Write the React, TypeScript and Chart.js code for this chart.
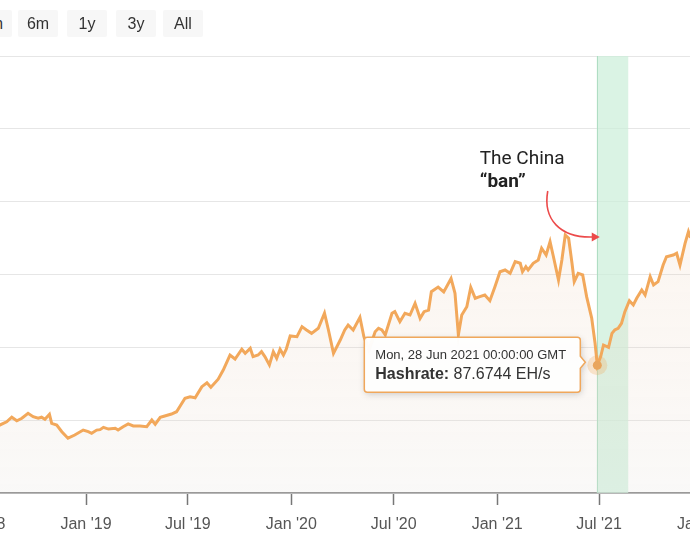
import React, { useEffect, useRef } from "react";
import { Chart, registerables } from "chart.js";

Chart.register(...registerables);

// ---- data ----
const dates: string[] = [
  "2018-07-04","2018-07-18","2018-08-01","2018-08-13","2018-08-22","2018-08-31","2018-09-09","2018-09-20","2018-09-29","2018-10-08",
  "2018-10-14","2018-10-20","2018-10-28","2018-11-01","2018-11-10","2018-11-19","2018-11-30","2018-12-12","2018-12-27","2019-01-05",
  "2019-01-11","2019-01-20","2019-01-26","2019-02-01","2019-02-10","2019-02-22","2019-02-27","2019-03-08","2019-03-17","2019-03-26",
  "2019-04-07","2019-04-19","2019-04-28","2019-05-04","2019-05-13","2019-05-21","2019-06-02","2019-06-11","2019-06-26","2019-07-05",
  "2019-07-14","2019-07-26","2019-08-04","2019-08-11","2019-08-24","2019-09-02","2019-09-14","2019-09-23","2019-10-05","2019-10-11",
  "2019-10-20","2019-10-25","2019-11-03","2019-11-09","2019-11-15","2019-11-23","2019-11-30","2019-12-06","2019-12-12","2019-12-18",
  "2019-12-23","2019-12-30","2020-01-11","2020-01-20","2020-01-28","2020-02-06","2020-02-18","2020-02-29","2020-03-07","2020-03-16",
  "2020-03-28","2020-04-05","2020-04-11","2020-04-20","2020-05-02","2020-05-09","2020-05-18","2020-05-29","2020-06-04","2020-06-10",
  "2020-06-16","2020-06-28","2020-07-03","2020-07-12","2020-07-21","2020-07-30","2020-08-08","2020-08-17","2020-08-24","2020-09-01",
  "2020-09-06","2020-09-18","2020-09-28","2020-10-11","2020-10-18","2020-10-24","2020-10-30","2020-11-08","2020-11-15","2020-11-23",
  "2020-12-01","2020-12-10","2020-12-19","2020-12-28","2021-01-06","2021-01-15","2021-01-24","2021-02-02","2021-02-11","2021-02-15",
  "2021-02-21","2021-02-25","2021-03-06","2021-03-15","2021-03-21","2021-03-29","2021-04-05","2021-04-11","2021-04-20","2021-04-26",
  "2021-05-02","2021-05-08","2021-05-14","2021-05-18","2021-05-25","2021-06-02","2021-06-09","2021-06-18","2021-06-24","2021-06-28",
  "2021-07-04","2021-07-09","2021-07-18","2021-07-24","2021-07-29","2021-08-04","2021-08-10","2021-08-16","2021-08-24","2021-08-31",
  "2021-09-06","2021-09-15","2021-09-21","2021-09-30","2021-10-06","2021-10-14","2021-10-23","2021-10-29","2021-11-10","2021-11-16",
  "2021-11-22","2021-12-01","2021-12-07","2021-12-10","2021-12-20"
];

const hashrate: number[] = [
  47.4,45.3,46.7,48.9,52.0,49.6,51.3,54.7,52.4,51.3,
  52.0,50.6,54.0,47.8,46.7,42.1,37.6,39.8,43.2,42.1,
  41.0,43.2,43.5,45.1,43.9,44.4,43.2,45.5,47.4,46.0,
  46.0,45.5,50.1,47.2,52.0,52.9,54.2,55.8,65.0,66.1,
  65.4,73.0,75.7,72.6,78.1,84.4,94.7,92.0,98.7,95.9,
  99.3,93.6,94.7,97.0,93.6,87.9,97.0,92.5,98.7,94.7,
  98.7,107.8,107.3,114.2,111.9,109.6,113.1,123.4,111.9,95.9,
  105.0,111.9,115.3,111.9,120.6,107.3,98.2,110.7,113.1,111.9,
  108.5,123.4,124.5,117.6,123.4,122.2,130.2,119.9,124.5,125.6,
  138.2,141.4,138.0,147.3,137.1,108.5,122.2,127.9,141.2,133.7,
  134.8,135.9,132.0,141.6,151.9,153.1,150.8,158.8,157.7,151.9,
  155.4,153.1,157.7,160.0,168.0,163.4,172.5,162.2,146.2,160.0,
  177.1,174.9,157.7,145.1,150.8,149.7,134.8,120.1,102.8,87.6744,
  93.6,101.6,100.0,109.6,111.9,113.1,116.5,124.5,132.0,129.1,
  133.7,139.4,135.9,148.5,142.8,145.1,156.5,162.2,163.4,164.6,
  156.5,171.4,179.4,176.0,173.7
];

const tickDates: string[] = ["2018-07-01","2019-01-01","2019-07-01","2020-01-01","2020-07-01","2021-01-01","2021-07-01","2022-01-01"];
const tickLabels: string[] = ["Jul '18","Jan '19","Jul '19","Jan '20","Jul '20","Jan '21","Jul '21","Jan '22"];
const yMin = 0;
const yMax = 300;
const yStep = 50;
const rangeButtons: string[] = ["3m", "6m", "1y", "3y", "All"];
const banStart = "2021-06-27";
const banEnd = "2021-08-22";
const tooltipDate = "2021-06-28";
const tooltipTitle = "Mon, 28 Jun 2021 00:00:00 GMT";
const seriesName = "Hashrate";
const unit = "EH/s";
const annotationLines: string[] = ["The China", "\u201Cban\u201D"];
const viewStart = Date.UTC(2018, 3, 16, 10, 40);
const viewEnd = Date.UTC(2022, 3, 13, 5, 20);

const t = (s: string) => Date.parse(s + "T00:00:00Z");

const SHIFT = 60; // canvas is shifted left by this many px (cropped view)
const FONT = "'Liberation Sans', Arial, Helvetica, sans-serif";
const ANNO_FONT = "Roboto, 'Noto Sans', sans-serif";

const overlayPlugin = {
  id: "overlay",
  beforeDatasetsDraw(chart: any) {
    const { ctx, chartArea, scales } = chart;
    const x = scales.x;
    const x1 = x.getPixelForValue(t(banStart));
    const x2 = x.getPixelForValue(t(banEnd));
    ctx.save();
    ctx.fillStyle = "rgba(204,238,218,0.72)";
    ctx.fillRect(x1, chartArea.top, x2 - x1, chartArea.bottom - chartArea.top);
    ctx.strokeStyle = "rgba(165,216,188,0.8)";
    ctx.lineWidth = 1;
    ctx.beginPath();
    ctx.moveTo(Math.round(x1) + 0.5, chartArea.top);
    ctx.lineTo(Math.round(x1) + 0.5, chartArea.bottom);
    ctx.stroke();
    ctx.restore();
  },
  afterDatasetsDraw(chart: any) {
    const { ctx, scales } = chart;
    const x = scales.x;
    const y = scales.y;
    const idx = dates.indexOf(tooltipDate);
    const val = hashrate[idx];
    const px = x.getPixelForValue(t(tooltipDate));
    const py = y.getPixelForValue(val);

    // highlighted point
    ctx.save();
    ctx.beginPath();
    ctx.arc(px, py, 10, 0, Math.PI * 2);
    ctx.fillStyle = "rgba(240,168,90,0.28)";
    ctx.fill();
    ctx.beginPath();
    ctx.arc(px, py, 4.5, 0, Math.PI * 2);
    ctx.fillStyle = "#e9a55c";
    ctx.fill();
    ctx.restore();

    // tooltip box
    const right = px - 17;
    const top = py - 28;
    const w = 216;
    const h = 55;
    const left = right - w;
    const r = 3;
    const cy = py - 3;
    ctx.save();
    ctx.beginPath();
    ctx.moveTo(left + r, top);
    ctx.lineTo(right - r, top);
    ctx.arcTo(right, top, right, top + r, r);
    ctx.lineTo(right, cy - 6);
    ctx.lineTo(right + 5, cy);
    ctx.lineTo(right, cy + 6);
    ctx.lineTo(right, top + h - r);
    ctx.arcTo(right, top + h, right - r, top + h, r);
    ctx.lineTo(left + r, top + h);
    ctx.arcTo(left, top + h, left, top + h - r, r);
    ctx.lineTo(left, top + r);
    ctx.arcTo(left, top, left + r, top, r);
    ctx.closePath();
    ctx.shadowColor = "rgba(0,0,0,0.2)";
    ctx.shadowBlur = 7;
    ctx.shadowOffsetX = 1;
    ctx.shadowOffsetY = 2;
    ctx.fillStyle = "rgba(255,255,255,0.97)";
    ctx.fill();
    ctx.shadowColor = "transparent";
    ctx.strokeStyle = "#f0a75b";
    ctx.lineWidth = 1.5;
    ctx.stroke();

    ctx.fillStyle = "#333";
    ctx.textBaseline = "middle";
    ctx.textAlign = "left";
    ctx.font = `13px ${FONT}`;
    ctx.fillText(tooltipTitle, left + 11, top + 18);
    ctx.font = `bold 16px ${FONT}`;
    const label = seriesName + ":";
    ctx.fillText(label, left + 11, top + 37);
    const lw = ctx.measureText(label).width;
    ctx.font = `16px ${FONT}`;
    ctx.fillText(" " + val + " " + unit, left + 11 + lw, top + 37);
    ctx.restore();
  },
  afterDraw(chart: any) {
    const { ctx, scales } = chart;
    const x1 = scales.x.getPixelForValue(t(banStart));
    ctx.save();
    ctx.fillStyle = "#222";
    ctx.textAlign = "left";
    ctx.textBaseline = "alphabetic";
    ctx.font = `19px ${ANNO_FONT}`;
    ctx.fillText(annotationLines[0], x1 - 117, 164);
    ctx.font = `bold 19px ${ANNO_FONT}`;
    ctx.fillText(annotationLines[1], x1 - 117, 187);

    // arrow
    const sx = x1 - 49;
    const sy = 191;
    const ex = x1 + 2;
    const ey = 237;
    ctx.strokeStyle = "#ec4a4a";
    ctx.fillStyle = "#ec4a4a";
    ctx.lineWidth = 1.6;
    ctx.beginPath();
    ctx.moveTo(sx, sy);
    ctx.bezierCurveTo(sx - 5, sy + 28, sx + 12, ey + 1, ex - 6, ey);
    ctx.stroke();
    ctx.beginPath();
    ctx.moveTo(ex + 1, ey);
    ctx.lineTo(ex - 7, ey - 4.5);
    ctx.lineTo(ex - 7, ey + 4.5);
    ctx.closePath();
    ctx.fill();
    ctx.restore();
  },
};

export default function App() {
  const ref = useRef<HTMLCanvasElement | null>(null);

  useEffect(() => {
    if (!ref.current) return;
    const chart = new Chart(ref.current, {
      type: "line",
      data: {
        datasets: [
          {
            label: seriesName,
            data: dates.map((d, i) => ({ x: t(d), y: hashrate[i] })),
            borderColor: "#f2a85b",
            borderWidth: 3,
            pointRadius: 0,
            tension: 0,
            fill: "origin",
            backgroundColor: (c: any) => {
              const { chart: ch } = c;
              const area = ch.chartArea;
              if (!area) return "rgba(240,170,100,0.06)";
              const g = ch.ctx.createLinearGradient(0, area.top, 0, area.bottom);
              g.addColorStop(0, "rgba(240,175,120,0.10)");
              g.addColorStop(1, "rgba(228,224,220,0.20)");
              return g;
            },
          },
        ],
      },
      options: {
        animation: false,
        responsive: false,
        events: [],
        layout: { padding: { top: 56, left: 0, right: 0, bottom: 0 } },
        plugins: { legend: { display: false }, tooltip: { enabled: false } },
        scales: {
          x: {
            type: "linear",
            min: viewStart,
            max: viewEnd,
            afterBuildTicks: (scale: any) => {
              scale.ticks = tickDates.map((d) => ({ value: t(d) }));
            },
            afterFit: (scale: any) => {
              scale.height = 57;
            },
            grid: {
              drawOnChartArea: false,
              drawTicks: true,
              tickLength: 12,
              tickColor: "#777",
              tickWidth: 1.5,
              color: "#777",
            },
            border: { display: true, color: "#888", width: 1.5 },
            ticks: {
              autoSkip: false,
              maxRotation: 0,
              minRotation: 0,
              padding: 10,
              color: "#555",
              font: { size: 16, family: FONT },
              callback: (_v: any, i: number) => tickLabels[i],
            },
          },
          y: {
            min: yMin,
            max: yMax,
            afterFit: (scale: any) => {
              scale.width = 0;
            },
            ticks: { display: false, stepSize: yStep },
            grid: { color: "#e6e6e6", lineWidth: 1, drawTicks: false },
            border: { display: false },
          },
        },
      },
      plugins: [overlayPlugin],
    } as any);
    return () => chart.destroy();
  }, []);

  const btnLefts = [-28, 18, 67, 116, 163];
  return (
    <div
      style={{
        position: "fixed",
        left: 0,
        top: 0,
        width: 690,
        height: 550,
        overflow: "hidden",
        background: "#fff",
      }}
    >
      <div style={{ position: "absolute", left: -SHIFT, top: 0, width: 820, height: 550 }}>
        <canvas ref={ref} width={820} height={550} style={{ display: "block", width: 820, height: 550 }} />
      </div>
      {rangeButtons.map((b, i) => (
        <div
          key={b}
          style={{
            position: "absolute",
            left: btnLefts[i],
            top: 10,
            width: 40,
            height: 27,
            lineHeight: "27px",
            background: "#f7f7f7",
            borderRadius: 2,
            textAlign: "center",
            fontFamily: FONT,
            fontSize: 16,
            color: "#333",
          }}
        >
          {b}
        </div>
      ))}
    </div>
  );
}
